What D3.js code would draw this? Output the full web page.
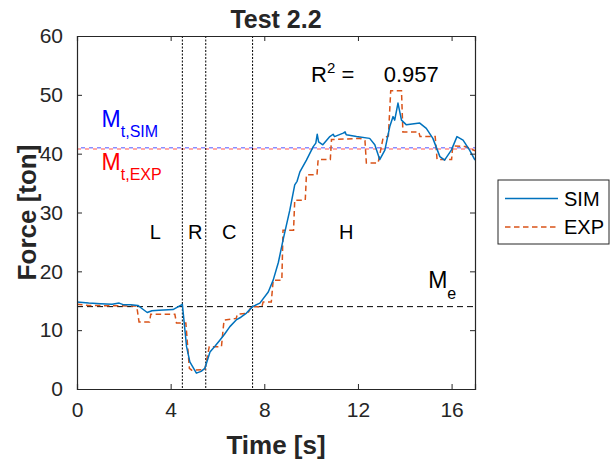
<!DOCTYPE html>
<html>
<head>
<meta charset="utf-8">
<script src="https://cdn.jsdelivr.net/npm/d3@7"></script>
<style>
  body { margin: 0; background: #fff; }
  svg text { font-family: "Liberation Sans", Arial, sans-serif; fill: #262626; }
</style>
</head>
<body>
<div id="chart"></div>
<script>
// SIM curve (time [s], force [ton])
const simTime = [0, 0.5, 1, 1.5, 1.8, 2, 2.3, 2.6, 2.8, 3.0, 3.2, 3.5, 4.1, 4.5, 4.68, 4.82, 5.1, 5.3, 5.46,
  5.68, 5.9, 6.1, 6.3, 6.53, 6.82, 7.0, 7.24, 7.5, 7.81, 8.17, 8.38, 8.6, 8.8, 9.09, 9.3, 9.4, 9.52, 9.8,
  10.09, 10.2, 10.26, 10.32, 10.5, 10.8, 10.94, 11.0, 11.37, 11.45, 11.5, 11.94, 12.5, 12.72, 12.93, 13.15,
  13.36, 13.5, 13.57, 13.71, 13.86, 14.07, 14.64, 14.92, 15.2, 15.5, 15.7, 15.99, 16.23, 16.49, 16.77, 17];
const simForce = [14.8, 14.6, 14.5, 14.4, 14.6, 14.3, 14.3, 14.2, 13.6, 13.0, 13.3, 13.4, 13.5, 14.4, 7.2, 4.6, 2.7, 3.0, 3.5,
  6.3, 7.3, 8.3, 9.3, 10.6, 11.8, 12.2, 12.9, 14.0, 14.6, 16.5, 18.5, 21.5, 25.3, 30.4, 34.7, 35.3, 36.9, 38.9,
  41.2, 41.8, 43.3, 42.0, 41.5, 42.9, 43.3, 42.9, 43.5, 43.7, 43.2, 42.9, 42.6, 41.5, 39.0, 40.6,
  44.6, 46.3, 45.7, 48.6, 45.7, 44.9, 45.2, 44.3, 42.6, 39.5, 38.9, 40.6, 42.9, 42.3, 40.6, 38.9];

// EXP curve (step-like measurement)
const expTime = [0, 0.5, 2.55, 2.65, 3.1, 3.15, 4.18, 4.25, 4.65, 4.8, 4.9, 5.46, 5.58, 5.65, 6.17, 6.28, 6.8, 6.85,
  7.3, 7.45, 7.9, 7.95, 8.3, 8.38, 8.75, 8.8, 9.25, 9.3, 9.75, 9.8, 10.25, 10.3, 10.82, 10.87, 12.1, 12.3, 12.36,
  12.86, 13.07, 13.3, 13.4, 13.86, 13.92, 14.6, 14.65, 15.3, 15.38, 16.0, 16.05, 16.6, 17];
const expForce = [14.4, 14.2, 14.1, 11.4, 11.4, 12.7, 12.7, 11.2, 11.2, 3.5, 3.2, 3.3, 5.8, 7.2, 7.2, 11.7, 12.0, 12.7,
  12.9, 14.0, 14.0, 14.8, 14.8, 18.5, 18.5, 27.0, 27.0, 32.1, 32.1, 36.4, 36.4, 39.0, 39.0, 42.4, 42.6, 42.2, 38.4,
  38.4, 42.6, 43.0, 50.7, 50.7, 43.7, 43.7, 42.9, 42.9, 39.0, 39.0, 41.3, 41.2, 40.5];

// reference levels
const phaseLines = [4.5, 5.5, 7.5];
const phaseLabels = [{ text: 'L', t: 3.35 }, { text: 'R', t: 5.05 }, { text: 'C', t: 6.5 }, { text: 'H', t: 11.5 }];
const momentElastic = 14.0;
const momentSim = 41.0;
const momentExp = 40.8;
const rSquared = '0.957';

const xTicks = [0, 4, 8, 12, 16];
const yTicks = [0, 10, 20, 30, 40, 50, 60];

const width = 611, height = 462;
const margin = { top: 36, right: 136, bottom: 73, left: 77 };
const w = width - margin.left - margin.right;
const h = height - margin.top - margin.bottom;

const svg = d3.select('#chart').append('svg')
  .attr('width', width)
  .attr('height', height);

const g = svg.append('g').attr('transform', `translate(${margin.left},${margin.top})`);

const x = d3.scaleLinear().domain([0, 17]).range([0, w]);
const y = d3.scaleLinear().domain([0, 60]).range([h, 0]);

const axisColor = '#262626';

// reference lines
g.append('line')
  .attr('x1', 0).attr('x2', w)
  .attr('y1', y(momentExp)).attr('y2', y(momentExp))
  .attr('stroke', '#ff8c8c').attr('stroke-width', 1.6)
  .attr('stroke-dasharray', '4,4');
g.append('line')
  .attr('x1', 0).attr('x2', w)
  .attr('y1', y(momentSim)).attr('y2', y(momentSim))
  .attr('stroke', '#8c8cff').attr('stroke-width', 1.6)
  .attr('stroke-dasharray', '4,4').attr('stroke-dashoffset', 4);

g.append('line')
  .attr('x1', 0).attr('x2', w)
  .attr('y1', y(momentElastic)).attr('y2', y(momentElastic))
  .attr('stroke', '#000').attr('stroke-width', 1)
  .attr('stroke-dasharray', '6,4');

g.selectAll('.phase')
  .data(phaseLines)
  .join('line')
  .attr('class', 'phase')
  .attr('x1', d => x(d)).attr('x2', d => x(d))
  .attr('y1', 0).attr('y2', h)
  .attr('stroke', '#000').attr('stroke-width', 1)
  .attr('stroke-dasharray', '2,1.5');

// curves
const line = d3.line()
  .x(d => x(d[0]))
  .y(d => y(d[1]));

g.append('path')
  .datum(expTime.map((t, i) => [t, expForce[i]]))
  .attr('d', line)
  .attr('fill', 'none')
  .attr('stroke', '#D95319')
  .attr('stroke-width', 1.5)
  .attr('stroke-dasharray', '5.5,3.5');

g.append('path')
  .datum(simTime.map((t, i) => [t, simForce[i]]))
  .attr('d', line)
  .attr('fill', 'none')
  .attr('stroke', '#0072BD')
  .attr('stroke-width', 1.5)
  .attr('stroke-linejoin', 'round');

// axes (MATLAB style: ticks inside, box on)
const tickLen = 5;
g.append('g').attr('transform', `translate(0,${h})`)
  .call(d3.axisBottom(x).tickValues(xTicks).tickSize(-tickLen).tickPadding(tickLen + 8));
g.append('g')
  .call(d3.axisLeft(y).tickValues(yTicks).tickSize(-tickLen).tickPadding(tickLen + 9));
g.append('g').attr('transform', `translate(${w},0)`)
  .call(d3.axisRight(y).tickValues(yTicks).tickSize(-tickLen).tickFormat(''));
g.append('g')
  .call(d3.axisTop(x).tickValues(xTicks).tickSize(-tickLen).tickFormat(''));

g.selectAll('.domain').attr('stroke', axisColor).attr('stroke-width', 1.2);
g.selectAll('.tick line').attr('stroke', axisColor);
g.selectAll('.tick text').style('font-size', '21px').attr('fill', axisColor);

// axis labels and title
svg.append('text')
  .attr('x', margin.left + w / 2).attr('y', 454)
  .attr('text-anchor', 'middle')
  .style('font-size', '26px').style('font-weight', 'bold')
  .text('Time [s]');

svg.append('text')
  .attr('transform', `translate(36,${margin.top + h / 2}) rotate(-90)`)
  .attr('text-anchor', 'middle')
  .style('font-size', '26px').style('font-weight', 'bold')
  .text('Force [ton]');

svg.append('text')
  .attr('x', margin.left + w / 2).attr('y', 28)
  .attr('text-anchor', 'middle')
  .style('font-size', '25px').style('font-weight', 'bold')
  .text('Test 2.2');

// annotations
const ann = g.append('g');

function subLabel(px, py, main, sub, color, subDy) {
  const t = ann.append('text')
    .attr('x', px).attr('y', py)
    .style('font-size', '23px')
    .style('fill', color);
  t.append('tspan').text(main);
  t.append('tspan')
    .attr('dy', subDy)
    .style('font-size', '16px')
    .text(sub);
}

subLabel(x(1.05), y(44.5), 'M', 't,SIM', '#0000ff', 10);
subLabel(x(1.05), y(37.2), 'M', 't,EXP', '#ff0000', 10);
subLabel(x(15.0), y(17.2), 'M', 'e', '#000000', 11);

ann.selectAll('.phase-label')
  .data(phaseLabels)
  .join('text')
  .attr('class', 'phase-label')
  .attr('x', d => x(d.t))
  .attr('y', y(25.5))
  .attr('text-anchor', 'middle')
  .style('font-size', '20px')
  .style('fill', '#000')
  .text(d => d.text);

const r2 = ann.append('text')
  .attr('x', x(10.0)).attr('y', y(52.2))
  .attr('xml:space', 'preserve')
  .style('font-size', '22px')
  .style('fill', '#000');
r2.append('tspan').text('R');
r2.append('tspan').attr('dy', -9).style('font-size', '15px').text('2');
r2.append('tspan').attr('dy', 9).text(' =');
r2.append('tspan').attr('x', x(13.1)).text(rSquared);

// legend
const legend = svg.append('g').attr('transform', 'translate(498,180)');
legend.append('rect')
  .attr('width', 111).attr('height', 64)
  .attr('fill', '#fff')
  .attr('stroke', axisColor).attr('stroke-width', 1);

const legendItems = [
  { name: 'SIM', color: '#0072BD', dash: null },
  { name: 'EXP', color: '#D95319', dash: '5.5,3.5' }
];
legendItems.forEach((d, i) => {
  const yy = 18.5 + i * 28.5;
  legend.append('line')
    .attr('x1', 7).attr('x2', 60)
    .attr('y1', yy).attr('y2', yy)
    .attr('stroke', d.color).attr('stroke-width', 1.5)
    .attr('stroke-dasharray', d.dash);
  legend.append('text')
    .attr('x', 66).attr('y', yy + 7)
    .style('font-size', '20px')
    .style('fill', '#000')
    .text(d.name);
});
</script>
</body>
</html>
